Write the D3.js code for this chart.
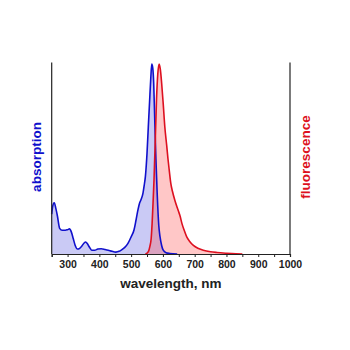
<!DOCTYPE html>
<html>
<head>
<meta charset="utf-8">
<script src="https://cdn.jsdelivr.net/npm/d3@7"></script>
<style>
  html, body { margin: 0; padding: 0; background: #fff; }
  svg { display: block; font-family: "Liberation Sans", Arial, sans-serif; }
</style>
</head>
<body>
<svg id="chart" width="350" height="350"></svg>
<script>
// Absorption spectrum (normalised), wavelength in nm
const absWavelength = [250, 253, 258, 263, 268, 275, 283, 293, 300, 306, 312, 318, 324, 331, 338, 345, 352, 357, 362, 368, 376, 385, 395, 406, 418, 428, 440, 452, 462, 470, 480, 490, 500, 509, 515, 520, 526, 531, 537, 541, 545, 550, 554, 558, 562, 565, 568, 571, 575, 578, 582, 587, 591, 596, 601, 610, 622, 645];
const absValue      = [0.21, 0.25, 0.27, 0.24, 0.2, 0.135, 0.125, 0.125, 0.128, 0.132, 0.115, 0.08, 0.045, 0.026, 0.03, 0.042, 0.058, 0.063, 0.055, 0.038, 0.02, 0.02, 0.026, 0.028, 0.024, 0.02, 0.014, 0.01, 0.014, 0.022, 0.035, 0.056, 0.09, 0.126, 0.175, 0.22, 0.265, 0.285, 0.318, 0.36, 0.41, 0.53, 0.667, 0.8, 0.93, 1.0, 0.98, 0.9, 0.667, 0.5, 0.318, 0.15, 0.09, 0.045, 0.02, 0.007, 0.003, 0];

// Fluorescence emission spectrum (normalised)
const fluWavelength = [545, 550, 555, 559, 563, 566, 569, 572, 576, 580, 584, 588, 592, 596, 601, 606, 612, 616, 620, 625, 630, 638, 648, 654, 660, 667, 675, 685, 696, 710, 727, 750, 770, 800, 830, 850];
const fluValue      = [0, 0.005, 0.015, 0.04, 0.08, 0.16, 0.27, 0.39, 0.6, 0.82, 0.95, 1.0, 0.97, 0.9, 0.79, 0.67, 0.57, 0.5, 0.44, 0.37, 0.33, 0.28, 0.23, 0.2, 0.16, 0.125, 0.09, 0.065, 0.045, 0.03, 0.02, 0.012, 0.008, 0.004, 0.001, 0];

const xTicks = [250, 300, 350, 400, 450, 500, 550, 600, 650, 700, 750, 800, 850, 900, 950, 1000];
const xTickLabels = [300, 400, 500, 600, 700, 800, 900, 1000];

const absorption = absWavelength.map((w, i) => ({ w, v: absValue[i] }));
const fluorescence = fluWavelength.map((w, i) => ({ w, v: fluValue[i] }));

const svg = d3.select("#chart");
const plotLeft = 51.7, plotRight = 290, plotBottom = 254, plotTop = 64;

const x = d3.scaleLinear().domain([250, 1000]).range([plotLeft, plotRight]);
const y = d3.scaleLinear().domain([0, 1]).range([plotBottom, plotTop]);

const area = d3.area().curve(d3.curveMonotoneX)
  .x(d => x(d.w)).y0(y(0)).y1(d => y(d.v));
const line = d3.line().curve(d3.curveMonotoneX)
  .x(d => x(d.w)).y(d => y(d.v));

// filled spectra
svg.append("path").datum(absorption).attr("d", area)
  .attr("fill", "rgb(90,90,225)").attr("fill-opacity", 0.32);
svg.append("path").datum(fluorescence).attr("d", area)
  .attr("fill", "rgb(255,70,70)").attr("fill-opacity", 0.3);

// spectrum outlines
svg.append("path").datum(absorption).attr("d", line)
  .attr("fill", "none").attr("stroke", "#1010cc").attr("stroke-width", 1.6);
svg.append("path").datum(fluorescence).attr("d", line)
  .attr("fill", "none").attr("stroke", "#dd1020").attr("stroke-width", 1.6);

// side axis lines
svg.append("line").attr("x1", plotLeft).attr("x2", plotLeft).attr("y1", plotTop - 1.5).attr("y2", plotBottom)
  .attr("stroke", "#222").attr("stroke-width", 1.2);
svg.append("line").attr("x1", plotRight).attr("x2", plotRight).attr("y1", plotTop - 1.5).attr("y2", plotBottom)
  .attr("stroke", "#222").attr("stroke-width", 1.2);

// bottom axis
const xAxis = d3.axisBottom(x).tickValues(xTicks).tickSize(3).tickPadding(4)
  .tickFormat(d => xTickLabels.includes(d) ? d : "");
const gx = svg.append("g").attr("transform", `translate(0,${plotBottom})`).call(xAxis);
gx.select(".domain").attr("stroke", "#222").attr("stroke-width", 1.2);
gx.selectAll(".tick line").attr("stroke", "#222");
gx.selectAll(".tick text")
  .attr("font-family", "'Liberation Sans', Arial, sans-serif")
  .attr("font-size", 10.5).attr("font-weight", "bold").attr("fill", "#222");

// axis titles
svg.append("text").attr("x", (plotLeft + plotRight) / 2).attr("y", 288)
  .attr("text-anchor", "middle").attr("font-size", 13.5).attr("font-weight", "bold")
  .attr("fill", "#222").text("wavelength, nm");

svg.append("text").attr("transform", "translate(41,157) rotate(-90)")
  .attr("text-anchor", "middle").attr("font-size", 13.5).attr("font-weight", "bold")
  .attr("fill", "#1010cc").text("absorption");

svg.append("text").attr("transform", "translate(310,157) rotate(-90)")
  .attr("text-anchor", "middle").attr("font-size", 13.5).attr("font-weight", "bold")
  .attr("fill", "#dd1020").text("fluorescence");
</script>
</body>
</html>
